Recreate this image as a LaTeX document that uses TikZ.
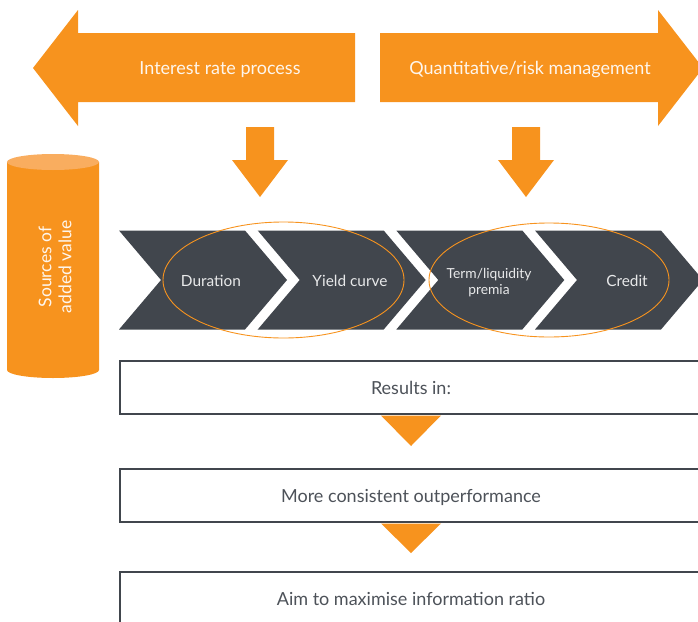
\documentclass[tikz,border=0pt]{standalone}
\usepackage{fontspec}
\setmainfont{Lato}
\usetikzlibrary{positioning}
\definecolor{ntorange}{HTML}{F7931E}
\definecolor{ntlight}{HTML}{F9AD5F}
\definecolor{ntdark}{HTML}{41464D}
\definecolor{nttext}{HTML}{4D5259}
\tikzset{
  bigarrow/.style={fill=ntorange,draw=none},
  arrowtext/.style={text=white!92!ntorange,font=\fontsize{18}{20}\selectfont},
  chevron/.style={fill=ntdark,draw=none},
  chevtext/.style={text=white!88!ntdark,font=\fontsize{15.4}{17}\selectfont,align=center},
  group/.style={draw=ntorange,line width=0.9pt},
  resultbox/.style={draw=ntdark,line width=2.5pt,fill=white,minimum width=582pt,minimum height=53pt,text=nttext,font=\fontsize{18}{20}\selectfont,inner sep=0pt,text height=15pt,text depth=2pt},
  pointer/.style={fill=ntorange,draw=none},
}

\begin{document}
\begin{tikzpicture}[x=1pt,y=-1pt]
	    \useasboundingbox (0,0) rectangle (698,621);
	    % big arrows on top
	    \fill[bigarrow] (33,68) -- (78,10) -- (78,33) -- (355,33) -- (355,102) -- (78,102) -- (78,126) -- cycle;
	    \fill[bigarrow] (703,68) -- (658,10) -- (658,33) -- (380,33) -- (380,102) -- (658,102) -- (658,126) -- cycle;
	    \node[arrowtext] (rate) at (220,69.5) {Interest rate process};
	    \node[arrowtext] (quant) at (530,69.5) {Quantitative/risk management};
	    % down arrows
	    \fill[bigarrow] (246,127) -- (274,127) -- (274,160) -- (288,160) -- (260,197) -- (232,160) -- (246,160) -- cycle;
	    \fill[bigarrow] (512,127) -- (540,127) -- (540,160) -- (554,160) -- (526,197) -- (498,160) -- (512,160) -- cycle;
	    % cylinder
	    \fill[ntorange] (7,162) -- (7,370) arc[start angle=180,end angle=360,x radius=46pt,y radius=8pt] -- (99,162) -- cycle;
	    \fill[ntlight] (53,162) ellipse[x radius=46pt,y radius=8pt];
	    \node[rotate=90,align=center,text=white!92!ntorange,font=\fontsize{17.5}{20}\selectfont] (src) at (55,267) {Sources of\\added value};
	    % chevrons
	    \foreach \x in {119,257.7,396.3,535}
	      \fill[chevron] (\x,230.5) -- ++(126,0) -- ++(42,49.5) -- ++(-42,49.5) -- ++(-126,0) -- ++(42,-49.5) -- cycle;
	    \node[chevtext] (dur) at (211,281) {Duration};
	    \node[chevtext] (yield) at (350,281) {Yield curve};
	    \node[chevtext,font=\fontsize{13.8}{16}\selectfont] (term) at (489,283) {Term/liquidity\\premia};
	    \node[chevtext] (credit) at (627,281) {Credit};
	    \draw[group] (283.5,280) ellipse[x radius=120.5pt,y radius=58pt];
	    \draw[group] (549,280) ellipse[x radius=120pt,y radius=57pt];
	    % results
	    \node[resultbox] (res) at (411,387.5) {Results in:};
	    \node[resultbox,below=52.5pt of res] (perf) {More consistent outperformance};
	    \node[resultbox,below=47.5pt of perf] (ratio) {Aim to maximise information ratio};
	    \fill[pointer] (381,415.5) -- (441,415.5) -- (411,446) -- cycle;
	    \fill[pointer] (381,523.5) -- (441,523.5) -- (411,553) -- cycle;
	\end{tikzpicture}
\end{document}
